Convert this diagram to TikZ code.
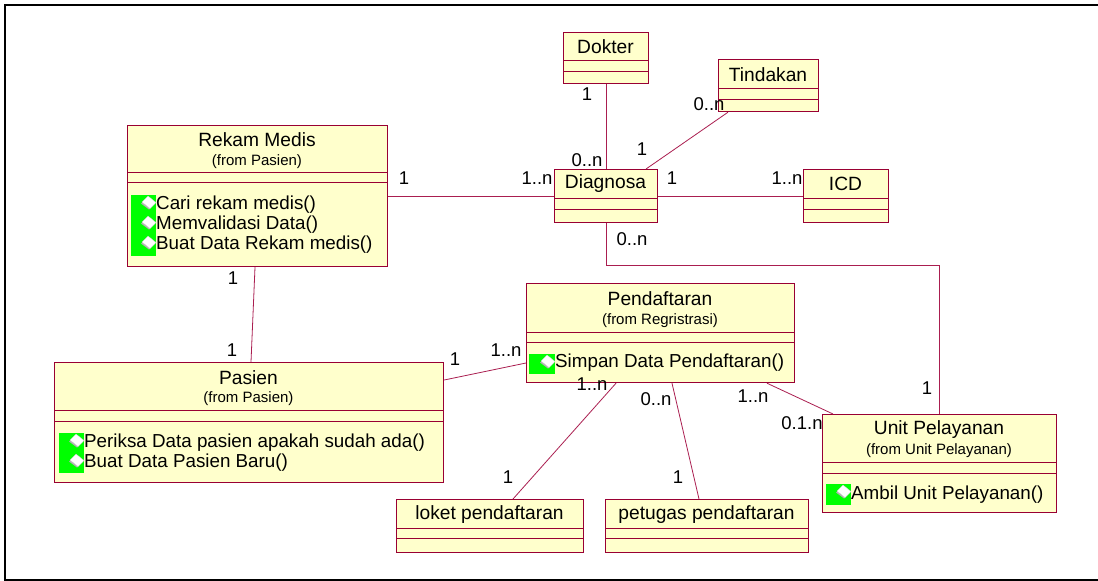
\documentclass[tikz,border=0pt]{standalone}
\usepackage{fontspec}
\setmainfont{Liberation Sans}
\usetikzlibrary{calc}
\definecolor{boxfill}{RGB}{255,255,204}
\definecolor{boxline}{RGB}{153,0,51}
\definecolor{linkc}{RGB}{170,30,80}
\definecolor{iconG}{RGB}{0,255,0}
\newcommand\compart[3]{%
  \draw[sepline] ($(#1.north west)+(0,#2)$) -- ($(#1.north east)+(0,#2)$);
  \draw[sepline] ($(#1.north west)+(0,#3)$) -- ($(#1.north east)+(0,#3)$);}
\newcommand\opdiamond[2]{%
  \fill[gray!60] (#1-8,#2+1.5) -- (#1-2,#2-4.5) -- (#1+6,#2+1.5) -- (#1,#2+7.5) -- cycle;
  \filldraw[fill=white, draw=gray!40, line width=0.3pt] (#1-7,#2) -- (#1-1,#2-6) -- (#1+7,#2+0.5) -- (#1+1,#2+6.5) -- cycle;}
\begin{document}
\begin{tikzpicture}[x=1pt,y=-1pt,
  cls/.style={draw=boxline, fill=boxfill, line width=1.2pt, rectangle, inner sep=0pt, anchor=north west},
  sepline/.style={draw=boxline, line width=0.9pt},
  link/.style={draw=linkc, line width=0.8pt},
  cname/.style={font=\fontsize{19.2}{21}\selectfont, inner sep=0pt},
  cfrom/.style={font=\fontsize{15}{17}\selectfont, inner sep=0pt},
  oper/.style={font=\fontsize{18.8}{21}\selectfont, inner sep=0pt, anchor=west},
  mult/.style={font=\fontsize{18.5}{20}\selectfont, inner sep=0pt},
  icon/.style={fill=iconG, draw=none},
]
\useasboundingbox (0,0) rectangle (1098,581);
\fill[white] (0,0) rectangle (1098,581);
% outer frame
\draw[line width=2pt] (1110,5) -- (5,5) -- (5,579.5) -- (1110,579.5);

% class boxes
\node[cls, minimum width=260pt, minimum height=141pt] (rekam) at (127,125) {};
\node[cls, minimum width=85pt, minimum height=51pt] (dokter) at (563,32) {};
\node[cls, minimum width=100pt, minimum height=52pt] (tind) at (718,59) {};
\node[cls, minimum width=103pt, minimum height=53pt] (diag) at (554,169) {};
\node[cls, minimum width=85pt, minimum height=53pt] (icd) at (803,169) {};
\node[cls, minimum width=389pt, minimum height=120pt] (pasien) at (54,362) {};
\node[cls, minimum width=268pt, minimum height=99pt] (pend) at (526,283) {};
\node[cls, minimum width=187pt, minimum height=53pt] (loket) at (396,499) {};
\node[cls, minimum width=203pt, minimum height=53pt] (petugas) at (605,499) {};
\node[cls, minimum width=234pt, minimum height=98pt] (unit) at (822,414) {};

% compartments
\compart{rekam}{47}{57}
\compart{dokter}{28}{39}
\compart{tind}{29}{40}
\compart{diag}{29}{40}
\compart{icd}{29}{40}
\compart{pasien}{48}{59}
\compart{pend}{49}{59}
\compart{loket}{29}{39}
\compart{petugas}{29}{39}
\compart{unit}{48}{59}

% names
\node[cname] (rekamN) at (257,140) {Rekam Medis};
\node[cfrom] (rekamF) at (257,162) {(from Pasien)};
\node[cname] (dokterN) at (605.5,47) {Dokter};
\node[cname] (tindN) at (768,75) {Tindakan};
\node[cname] (diagN) at (605.5,184) {Diagnosa};
\node[cname] (icdN) at (845.5,184) {ICD};
\node[cname] (pasienN) at (248.5,378) {Pasien};
\node[cfrom] (pasienF) at (248.5,399) {(from Pasien)};
\node[cname] (pendN) at (660,299) {Pendaftaran};
\node[cfrom] (pendF) at (660,321) {(from Regristrasi)};
\node[cname] (loketN) at (489.5,515) {loket pendaftaran};
\node[cname] (petugasN) at (706.5,515) {petugas pendaftaran};
\node[cname] (unitN) at (939,430) {Unit Pelayanan};
\node[cfrom] (unitF) at (939,451) {(from Unit Pelayanan)};

% operation icons
\fill[icon] (131,195) rectangle (156,256);
\opdiamond{149}{202}
\opdiamond{149}{222}
\opdiamond{149}{242}
\fill[icon] (59,433) rectangle (84,473);
\opdiamond{77}{440}
\opdiamond{77}{460}
\fill[icon] (529,354) rectangle (555,374);
\opdiamond{548}{361}
\fill[icon] (826,484) rectangle (851,505);
\opdiamond{844}{491}

% operations
\node[oper] (o1) at (156,205) {Cari rekam medis()};
\node[oper] (o2) at (156,225) {Memvalidasi Data()};
\node[oper] (o3) at (156,245) {Buat Data Rekam medis()};
\node[oper] (o4) at (84,443) {Periksa Data pasien apakah sudah ada()};
\node[oper] (o5) at (84,463) {Buat Data Pasien Baru()};
\node[oper] (o6) at (555,363) {Simpan Data Pendaftaran()};
\node[oper] (o7) at (851,495) {Ambil Unit Pelayanan()};

% connectors
\draw[link] (dokter.south) -- (diag.north);
\draw[link] ($(tind.south west)+(10,0)$) -- ($(diag.north west)+(92,0)$);
\draw[link] (rekam.east) -- (diag.west);
\draw[link] (diag.east) -- (icd.west);
\draw[link] ($(rekam.south west)+(128,0)$) -- ($(pasien.north west)+(197,0)$);
\draw[link] ($(pasien.north east)+(0,18)$) -- ($(pend.north west)+(0,80)$);
\draw[link] ($(pend.south west)+(90,0)$) -- ($(loket.north west)+(117,0)$);
\draw[link] ($(pend.south west)+(146,0)$) -- ($(petugas.north west)+(94,0)$);
\draw[link] ($(pend.south west)+(241,0)$) -- ($(unit.north west)+(11,0)$);
\draw[link] (diag.south) -- ++(0,42) -| ($(unit.north west)+(117,0)$);

% multiplicities
\node[mult] (m1) at (587,94) {1};
\node[mult] (m2) at (587,160) {0..n};
\node[mult] (m3) at (709,104) {0..n};
\node[mult] (m4) at (642,149) {1};
\node[mult] (m5) at (672,178) {1};
\node[mult] (m6) at (787,178) {1..n};
\node[mult] (m7) at (404,178) {1};
\node[mult] (m8) at (537,178) {1..n};
\node[mult] (m9) at (632,239) {0..n};
\node[mult] (m10) at (927,388) {1};
\node[mult] (m11) at (233,278) {1};
\node[mult] (m12) at (232,350) {1};
\node[mult] (m13) at (455,359) {1};
\node[mult] (m14) at (506,350) {1..n};
\node[mult] (m15) at (592,384) {1..n};
\node[mult] (m16) at (508,477) {1};
\node[mult] (m17) at (656,399) {0..n};
\node[mult] (m18) at (678,477) {1};
\node[mult] (m19) at (753,396) {1..n};
\node[mult] (m20) at (802,423) {0.1.n};
\end{tikzpicture}
\end{document}
